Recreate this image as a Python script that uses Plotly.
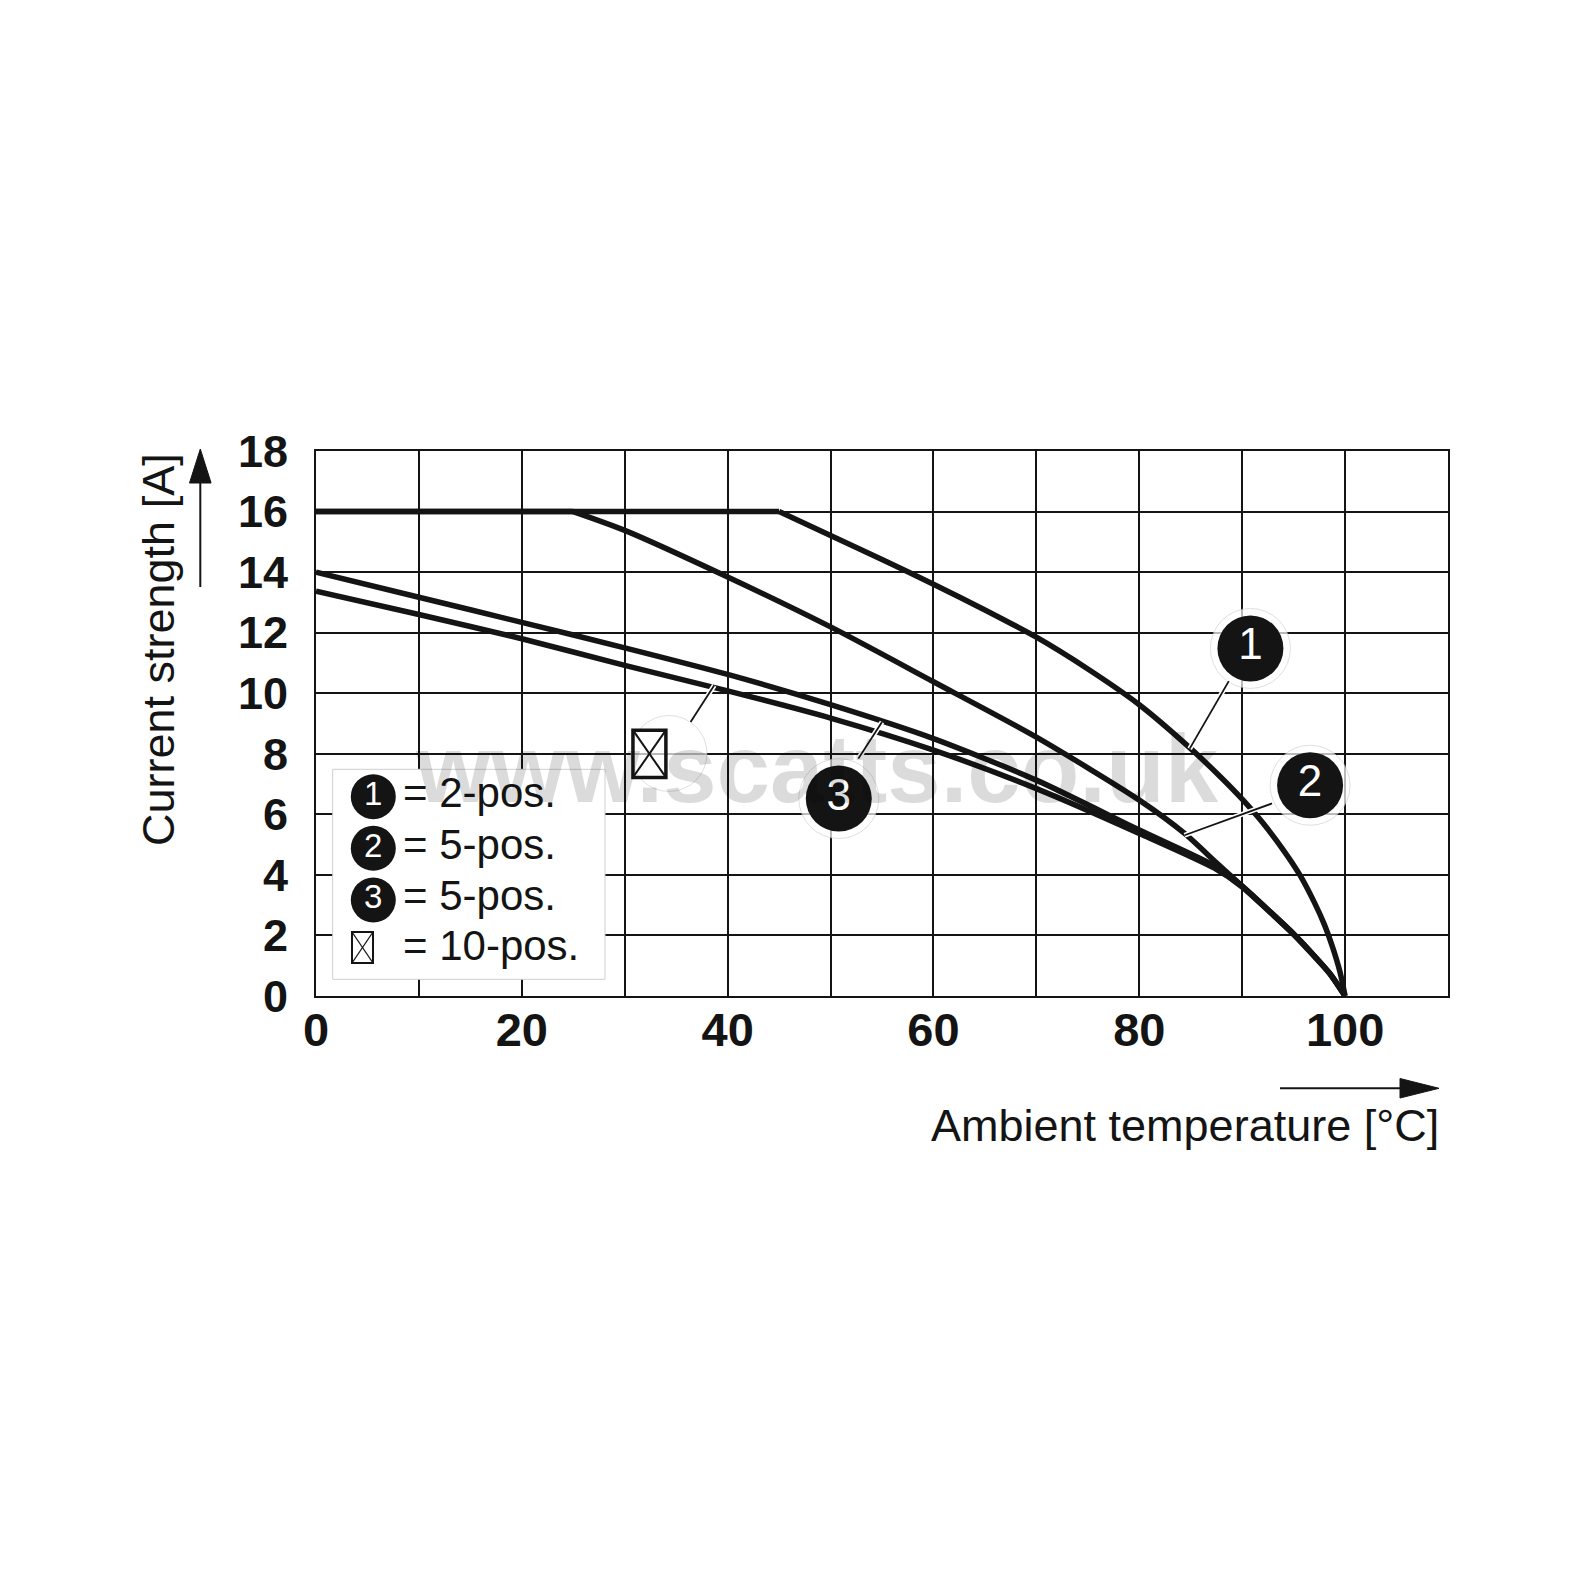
import plotly.graph_objects as go

# ---------------- data ----------------
# curve 1 (2-pos.): flat part then derating curve
flat_1_x = [0, 45]
flat_1_y = [16, 16]
temp_1 = [45, 50, 55, 60, 65, 70, 75, 80, 85, 88, 90, 92, 94, 95.6, 97, 98, 98.8, 99.5, 100]
curr_1 = [16, 15.21, 14.42, 13.6, 12.75, 11.85, 10.8, 9.62, 8.17, 7.2, 6.5, 5.72, 4.82, 4.0, 3.1, 2.35, 1.6, 0.8, 0]

# curve 2 (5-pos.)
flat_2_x = [0, 25]
flat_2_y = [16, 16]
temp_2 = [25, 30, 40, 50, 60, 70, 80, 84.4, 87.5, 90, 92.5, 95, 97, 98.5, 100]
curr_2 = [16, 15.38, 13.84, 12.19, 10.38, 8.55, 6.47, 5.37, 4.4, 3.63, 2.85, 2.05, 1.33, 0.75, 0]

# curve 3 (5-pos.)
temp_3 = [0, 10, 20, 30, 40, 50, 60, 70, 80, 87.3, 90, 92.5, 95, 97, 98.5, 100]
curr_3 = [14.0, 13.17, 12.34, 11.5, 10.62, 9.62, 8.5, 7.13, 5.48, 4.3, 3.63, 2.85, 2.05, 1.33, 0.75, 0]

# 10-pos.
temp_10 = [0, 10, 20, 30, 40, 50, 60, 70, 80, 87.3, 90, 92.5, 95, 97, 98.5, 100]
curr_10 = [13.37, 12.6, 11.8, 10.92, 10.08, 9.18, 8.12, 6.85, 5.37, 4.22, 3.6, 2.83, 2.03, 1.31, 0.74, 0]

x_ticks = [0, 20, 40, 60, 80, 100]
y_ticks = [0, 2, 4, 6, 8, 10, 12, 14, 16, 18]

legend_labels = ["= 2-pos.", "= 5-pos.", "= 5-pos.", "= 10-pos."]
callout_labels = ["1", "2", "3"]
callout_x = [90.8, 96.6, 50.8]
callout_y = [11.48, 6.96, 6.52]
leader_x = [[88.7, 84.9], [92.9, 84.4], [52.7, 55.0], [36.4, 38.7]]
leader_y = [[10.4, 8.17], [6.36, 5.31], [7.84, 9.05], [9.05, 10.26]]
box10_x = [30.8, 34.0]
box10_y = [7.22, 8.78]
halo10_x = [34.3]
halo10_y = [8.01]

# ---------------- geometry helpers ----------------
L, R, T, B = 316, 1448, 451, 996
XMAX, YMAX = 110, 18


def dx(px):
    return (px - L) / (R - L) * XMAX


def dy(py):
    return (B - py) / (B - T) * YMAX


def px_paper(px):
    return (px - L) / (R - L)


def py_paper(py):
    return (B - py) / (B - T)


FONT = "Liberation Sans, Arial, Helvetica, sans-serif"
INK = "#141414"
LW = 5.5

fig = go.Figure()

# halos behind callouts
fig.add_trace(go.Scatter(
    x=callout_x + halo10_x, y=callout_y + halo10_y, mode="markers",
    marker=dict(size=[80, 80, 80, 76], color="white",
                line=dict(color="rgba(200,200,200,0.8)", width=1)),
    hoverinfo="skip", showlegend=False, cliponaxis=False))

# curves
for xs, ys in [(flat_1_x, flat_1_y), (flat_2_x, flat_2_y)]:
    fig.add_trace(go.Scatter(x=xs, y=ys, mode="lines",
                             line=dict(color=INK, width=LW),
                             hoverinfo="skip", showlegend=False, cliponaxis=False))
for xs, ys in [(temp_1, curr_1), (temp_2, curr_2), (temp_3, curr_3), (temp_10, curr_10)]:
    fig.add_trace(go.Scatter(x=xs, y=ys, mode="lines",
                             line=dict(color=INK, width=LW, shape="spline", smoothing=0.7),
                             hoverinfo="skip", showlegend=False, cliponaxis=False))

# leader lines (white outline + black core)
for lx, ly in zip(leader_x, leader_y):
    fig.add_trace(go.Scatter(x=lx, y=ly, mode="lines", line=dict(color="white", width=5),
                             hoverinfo="skip", showlegend=False))
    fig.add_trace(go.Scatter(x=lx, y=ly, mode="lines", line=dict(color=INK, width=1.8),
                             hoverinfo="skip", showlegend=False))

# callout circles
fig.add_trace(go.Scatter(
    x=callout_x, y=callout_y, mode="markers+text", text=callout_labels,
    textposition="middle center",
    textfont=dict(family=FONT, size=44, color="white"),
    marker=dict(size=66, color=INK),
    hoverinfo="skip", showlegend=False, cliponaxis=False))

# legend circles
leg_cx = dx(373.3)
leg_rows_py = [796.7, 848.3, 900.0, 947.5]
fig.add_trace(go.Scatter(
    x=[leg_cx] * 3, y=[dy(p) for p in leg_rows_py[:3]], mode="markers+text",
    text=callout_labels, textposition="middle center",
    textfont=dict(family=FONT, size=33, color="white"),
    marker=dict(size=45, color=INK),
    hoverinfo="skip", showlegend=False))

shapes = []
# legend box
shapes.append(dict(type="rect", xref="x", yref="y", x0=dx(332.7), x1=dx(605), y0=dy(979.3), y1=dy(769.3),
                   fillcolor="white", line=dict(color="#cfcfcf", width=1), layer="between"))
# 10-pos box in chart
shapes.append(dict(type="rect", xref="x", yref="y", x0=box10_x[0], x1=box10_x[1], y0=box10_y[0], y1=box10_y[1],
                   fillcolor="rgba(0,0,0,0)", line=dict(color=INK, width=3.5), layer="above"))
shapes.append(dict(type="line", xref="x", yref="y", x0=box10_x[0], x1=box10_x[1], y0=box10_y[0], y1=box10_y[1],
                   line=dict(color=INK, width=2), layer="above"))
shapes.append(dict(type="line", xref="x", yref="y", x0=box10_x[0], x1=box10_x[1], y0=box10_y[1], y1=box10_y[0],
                   line=dict(color=INK, width=2), layer="above"))
# 10-pos legend symbol
lx0, lx1, ly0, ly1 = dx(352), dx(373), dy(963), dy(932)
shapes.append(dict(type="rect", xref="x", yref="y", x0=lx0, x1=lx1, y0=ly0, y1=ly1,
                   line=dict(color=INK, width=2), layer="above"))
shapes.append(dict(type="line", xref="x", yref="y", x0=lx0, x1=lx1, y0=ly0, y1=ly1,
                   line=dict(color=INK, width=1.3), layer="above"))
shapes.append(dict(type="line", xref="x", yref="y", x0=lx0, x1=lx1, y0=ly1, y1=ly0,
                   line=dict(color=INK, width=1.3), layer="above"))

# axis arrows
shapes.append(dict(type="line", xref="paper", yref="paper",
                   x0=px_paper(200.3), x1=px_paper(200.3), y0=py_paper(587), y1=py_paper(480),
                   line=dict(color=INK, width=2)))
shapes.append(dict(type="path", xref="paper", yref="paper",
                   path="M {a},{b} L {c},{d} L {e},{f} Z".format(
                       a=px_paper(189.5), b=py_paper(483), c=px_paper(211.1), d=py_paper(483),
                       e=px_paper(200.3), f=py_paper(449)),
                   fillcolor=INK, line=dict(color=INK, width=1)))
shapes.append(dict(type="line", xref="paper", yref="paper",
                   x0=px_paper(1280), x1=px_paper(1403), y0=py_paper(1088.3), y1=py_paper(1088.3),
                   line=dict(color=INK, width=2)))
shapes.append(dict(type="path", xref="paper", yref="paper",
                   path="M {a},{b} L {c},{d} L {e},{f} Z".format(
                       a=px_paper(1400), b=py_paper(1078.5), c=px_paper(1400), d=py_paper(1098),
                       e=px_paper(1439), f=py_paper(1088.3)),
                   fillcolor=INK, line=dict(color=INK, width=1)))

annotations = []
for lbl, py in zip(legend_labels, [792.5, 844, 895.8, 945.8]):
    annotations.append(dict(xref="x", yref="y", x=dx(401), y=dy(py), text=lbl, showarrow=False,
                            xanchor="left", yanchor="middle",
                            font=dict(family=FONT, size=42, color=INK)))

annotations.append(dict(xref="paper", yref="paper", x=px_paper(1185), y=py_paper(1125),
                        text="Ambient temperature [°C]", showarrow=False,
                        xanchor="center", yanchor="middle",
                        font=dict(family=FONT, size=45, color=INK)))
annotations.append(dict(xref="paper", yref="paper", x=px_paper(158), y=py_paper(650),
                        text="Current strength [A]", showarrow=False, textangle=-90,
                        xanchor="center", yanchor="middle",
                        font=dict(family=FONT, size=45, color=INK)))
# watermark (translucent dark so black lines stay black underneath)
annotations.append(dict(xref="paper", yref="paper", x=px_paper(817), y=py_paper(768),
                        text="www.scatts.co.uk", showarrow=False,
                        xanchor="center", yanchor="middle",
                        font=dict(family=FONT, size=96, color="rgba(0,0,0,0.14)", weight="bold")))

fig.update_layout(
    width=1586, height=1586,
    margin=dict(l=L, r=1586 - R, t=T, b=1586 - B),
    paper_bgcolor="white", plot_bgcolor="white",
    showlegend=False,
    shapes=shapes, annotations=annotations,
    xaxis=dict(range=[0, XMAX], tickvals=x_ticks, ticktext=[str(v) for v in x_ticks],
               showgrid=True, gridcolor=INK, gridwidth=2,
               minor=dict(dtick=10, tick0=0, showgrid=True, gridcolor=INK, gridwidth=2),
               showline=True, linecolor=INK, linewidth=2, mirror=True,
               zeroline=False, ticks="", ticklabelstandoff=-8,
               tickfont=dict(family=FONT, size=47, color=INK, weight="bold")),
    yaxis=dict(range=[0, YMAX], tickvals=y_ticks, ticktext=[str(v) for v in y_ticks],
               showgrid=True, gridcolor=INK, gridwidth=2,
               showline=True, linecolor=INK, linewidth=2, mirror=True,
               zeroline=False, ticks="", ticklabelstandoff=17,
               tickfont=dict(family=FONT, size=45, color=INK, weight="bold")),
)

fig.write_html("out.html")
